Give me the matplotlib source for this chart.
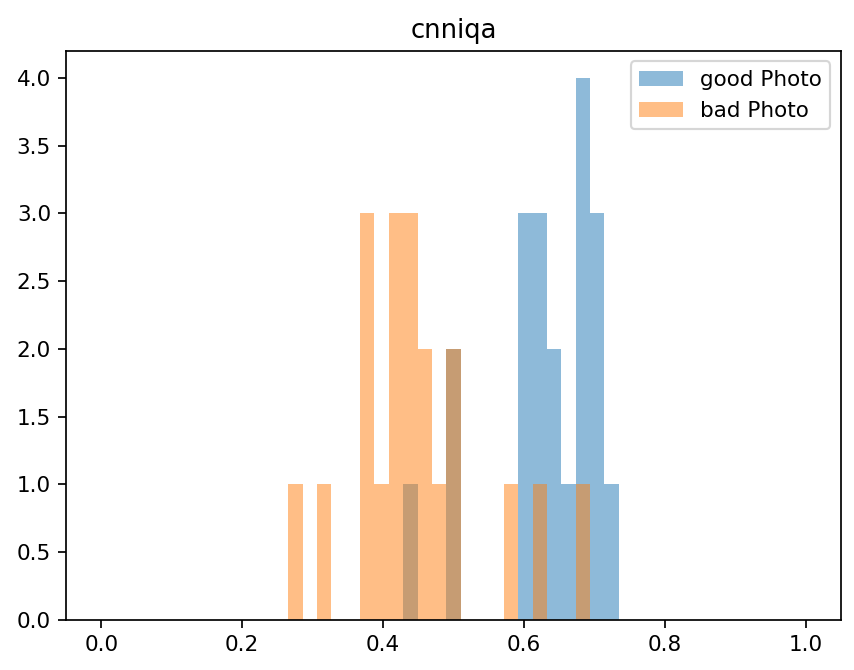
import numpy as np
import matplotlib
matplotlib.use("Agg")
import matplotlib.pyplot as plt

# bin edges: 49 equal bins over [0, 1]
edges = np.linspace(0, 1, 50)

# per-bin counts (bin index -> count)
good_bins = [21, 24, 29, 30, 31, 32, 33, 34, 35]
good_counts = [1, 2, 3, 3, 2, 1, 4, 3, 1]
bad_bins = [13, 15, 18, 19, 20, 21, 22, 23, 24, 28, 30, 33]
bad_counts = [1, 1, 3, 1, 3, 3, 2, 1, 2, 1, 1, 1]

centers = (edges[:-1] + edges[1:]) / 2

DPI = 155
fig = plt.figure(figsize=(854 / DPI, 670 / DPI), dpi=DPI)
ax = fig.add_axes([0.0773, 0.0746, 0.9075, 0.8497])
ax.hist(centers[good_bins], bins=edges, weights=good_counts, alpha=0.5, label="good Photo")
ax.hist(centers[bad_bins], bins=edges, weights=bad_counts, alpha=0.5, label="bad Photo")
ax.set_title("cnniqa")
ax.legend(loc="upper right")
fig.savefig("out.png", dpi=DPI)
